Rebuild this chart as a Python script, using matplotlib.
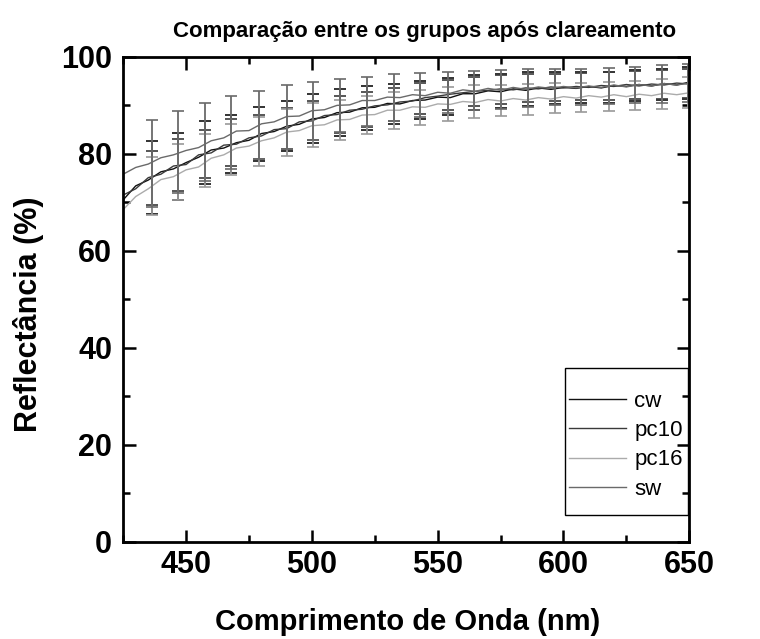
import matplotlib.pyplot as plt
plt.switch_backend('agg')

from matplotlib.patches import Rectangle
from matplotlib.ticker import MultipleLocator

# reflectance spectra, every 5 nm
wavelength = [425, 430, 435, 440, 445, 450, 455, 460, 465, 470, 475, 480, 485,
              490, 495, 500, 505, 510, 515, 520, 525, 530, 535, 540, 545, 550,
              555, 560, 565, 570, 575, 580, 585, 590, 595, 600, 605, 610, 615,
              620, 625, 630, 635, 640, 645, 650]

cw = [70.5, 73.4, 74.6, 76.3, 76.9, 78.2, 79.3, 80.8, 81.2, 82.3, 82.8, 84.2,
      84.6, 85.7, 86.1, 87.2, 87.5, 88.5, 88.6, 89.5, 89.6, 90.4, 90.3, 91.0,
      91.1, 91.7, 91.6, 92.4, 92.4, 93.0, 92.8, 93.4, 93.1, 93.6, 93.3, 93.7,
      93.5, 93.9, 93.6, 94.1, 93.9, 94.3, 94.0, 94.5, 94.2, 94.8]
pc10 = [71.5, 72.8, 75.1, 75.8, 77.5, 77.8, 79.8, 80.2, 81.8, 82.0, 83.3, 83.7,
        85.0, 85.2, 86.6, 86.8, 87.9, 88.1, 89.0, 89.2, 89.9, 90.1, 90.7, 90.9,
        91.6, 91.9, 92.3, 92.6, 92.9, 93.1, 93.4, 93.2, 93.6, 93.4, 93.8, 93.6,
        93.9, 93.7, 94.1, 93.9, 94.3, 94.0, 94.4, 94.2, 94.6, 94.4]
pc16 = [68.5, 71.2, 72.8, 74.7, 75.3, 76.7, 77.3, 79.1, 79.8, 81.2, 81.6, 82.7,
        83.3, 84.5, 84.8, 85.8, 86.0, 87.0, 87.1, 88.0, 88.1, 89.0, 89.0, 89.7,
        89.6, 90.3, 90.2, 90.8, 90.6, 91.2, 90.9, 91.4, 91.1, 91.6, 91.3, 91.8,
        91.5, 92.0, 91.7, 92.2, 91.8, 92.3, 92.0, 92.5, 92.2, 92.6]
sw = [75.8, 77.2, 77.9, 79.2, 79.8, 80.7, 81.3, 82.7, 83.3, 84.7, 84.8, 86.2,
      86.6, 87.7, 87.8, 88.9, 89.1, 90.0, 90.1, 91.0, 91.0, 91.7, 91.6, 92.2,
      92.0, 92.7, 92.5, 93.2, 92.9, 93.5, 93.1, 93.7, 93.3, 93.8, 93.5, 93.9,
      93.6, 94.0, 93.7, 94.2, 93.8, 94.3, 94.0, 94.5, 94.2, 94.6]

# standard deviation bars
err_x = [436.5, 447, 457.5, 468, 479, 490, 500.5, 511, 522, 532.5, 543,
         554, 564.5, 575, 586, 596.5, 607, 618, 628.5, 639, 649.5]

cw_mean = [75.2, 77.4, 80.2, 82.1, 84.1, 85.7, 87.3, 88.5, 89.4, 90.3, 91.1,
           91.8, 92.6, 93.0, 93.3, 93.5, 93.6, 93.7, 94.0, 94.3, 94.7]
cw_err = [7.5, 7.0, 6.5, 6.0, 5.5, 5.2, 5.0, 4.8, 4.5, 4.2, 4.0, 3.8, 3.6,
          3.5, 3.5, 3.3, 3.2, 3.2, 3.2, 3.2, 3.3]
pc10_mean = [75.0, 77.7, 80.0, 82.4, 83.5, 85.3, 86.9, 88.1, 89.2, 90.2, 91.4,
             92.1, 92.9, 93.3, 93.5, 93.7, 93.9, 94.0, 94.2, 94.3, 94.5]
pc10_err = [5.5, 5.3, 5.0, 4.8, 4.5, 4.2, 4.0, 3.8, 3.6, 3.4, 3.2, 3.1, 3.0,
            3.0, 2.9, 2.8, 2.8, 2.8, 2.8, 2.9, 3.0]
pc16_mean = [73.3, 76.2, 78.7, 80.9, 82.6, 84.4, 85.9, 87.0, 88.0, 88.9, 89.6,
             90.3, 90.8, 91.1, 91.3, 91.6, 91.7, 91.9, 92.1, 92.3, 92.6]
pc16_err = [6.0, 5.8, 5.5, 5.2, 5.0, 4.8, 4.5, 4.2, 4.0, 3.8, 3.6, 3.5, 3.4,
            3.2, 3.2, 3.1, 3.0, 3.0, 3.0, 3.1, 3.2]
sw_mean = [78.0, 80.4, 82.5, 84.4, 86.0, 87.6, 88.9, 90.0, 90.8, 91.6, 92.1,
           92.6, 93.0, 93.3, 93.6, 93.8, 93.8, 94.0, 94.2, 94.4, 94.6]
sw_err = [9.0, 8.5, 8.0, 7.5, 7.0, 6.5, 6.0, 5.5, 5.0, 4.8, 4.5, 4.2, 4.0,
          4.0, 4.0, 3.8, 3.8, 3.7, 3.8, 4.0, 4.0]

labels = ['cw', 'pc10', 'pc16', 'sw']
colors = ['#111111', '#3a3a3a', '#ababab', '#6a6a6a']

plt.rcParams['font.family'] = ['Liberation Sans', 'DejaVu Sans']

fig = plt.figure(figsize=(7.6, 6.39), dpi=100)
ax = fig.add_axes([0.162, 0.152, 0.745, 0.759])

series = [cw, pc10, pc16, sw]
means = [cw_mean, pc10_mean, pc16_mean, sw_mean]
errs = [cw_err, pc10_err, pc16_err, sw_err]

for ys, m, e, lab, col in zip(series, means, errs, labels, colors):
    ax.plot(wavelength, ys, color=col, lw=1.0, label=lab)
    ax.errorbar(err_x, m, yerr=e, fmt='none', ecolor=col if col != '#ababab' else '#9a9a9a',
                elinewidth=1.3, capsize=4, capthick=1.2)

ax.set_xlim(425, 650)
ax.set_ylim(0, 100)
ax.xaxis.set_major_locator(MultipleLocator(50))
ax.xaxis.set_minor_locator(MultipleLocator(25))
ax.yaxis.set_major_locator(MultipleLocator(20))
ax.yaxis.set_minor_locator(MultipleLocator(10))
ax.tick_params(which='both', direction='in', top=True, right=True, width=1.8)
ax.tick_params(which='major', length=9, labelsize=22)
ax.tick_params(axis='x', which='major', pad=6)
ax.tick_params(axis='y', which='major', pad=8)
ax.tick_params(which='minor', length=5)
for lab in ax.get_xticklabels() + ax.get_yticklabels():
    lab.set_fontweight('bold')
for sp in ax.spines.values():
    sp.set_linewidth(2)

ax.set_xlabel('Comprimento de Onda (nm)', fontsize=21, fontweight='bold')
ax.xaxis.set_label_coords(0.503, -0.137)
ax.set_ylabel('Reflectância (%)', fontsize=22, fontweight='bold')
ax.yaxis.set_label_coords(-0.14, 0.47)
fig.text(425 / 760, 1 - 37 / 639, 'Comparação entre os grupos após clareamento',
         fontsize=16, fontweight='bold', ha='center', va='baseline')

# legend entries without frame, box drawn separately (tighter sides than matplotlib's)
leg = ax.legend(loc='upper left', bbox_to_anchor=(0.787, 0.312), fontsize=16,
                frameon=False, handlelength=2.6, borderpad=0, borderaxespad=0,
                labelspacing=0.38, handletextpad=0.35)
ax.add_patch(Rectangle((0.781, 0.056), 0.217, 0.303, transform=ax.transAxes,
                       fill=False, edgecolor='black', lw=1.0, zorder=5))

plt.savefig('out.png')
plt.close(fig)
